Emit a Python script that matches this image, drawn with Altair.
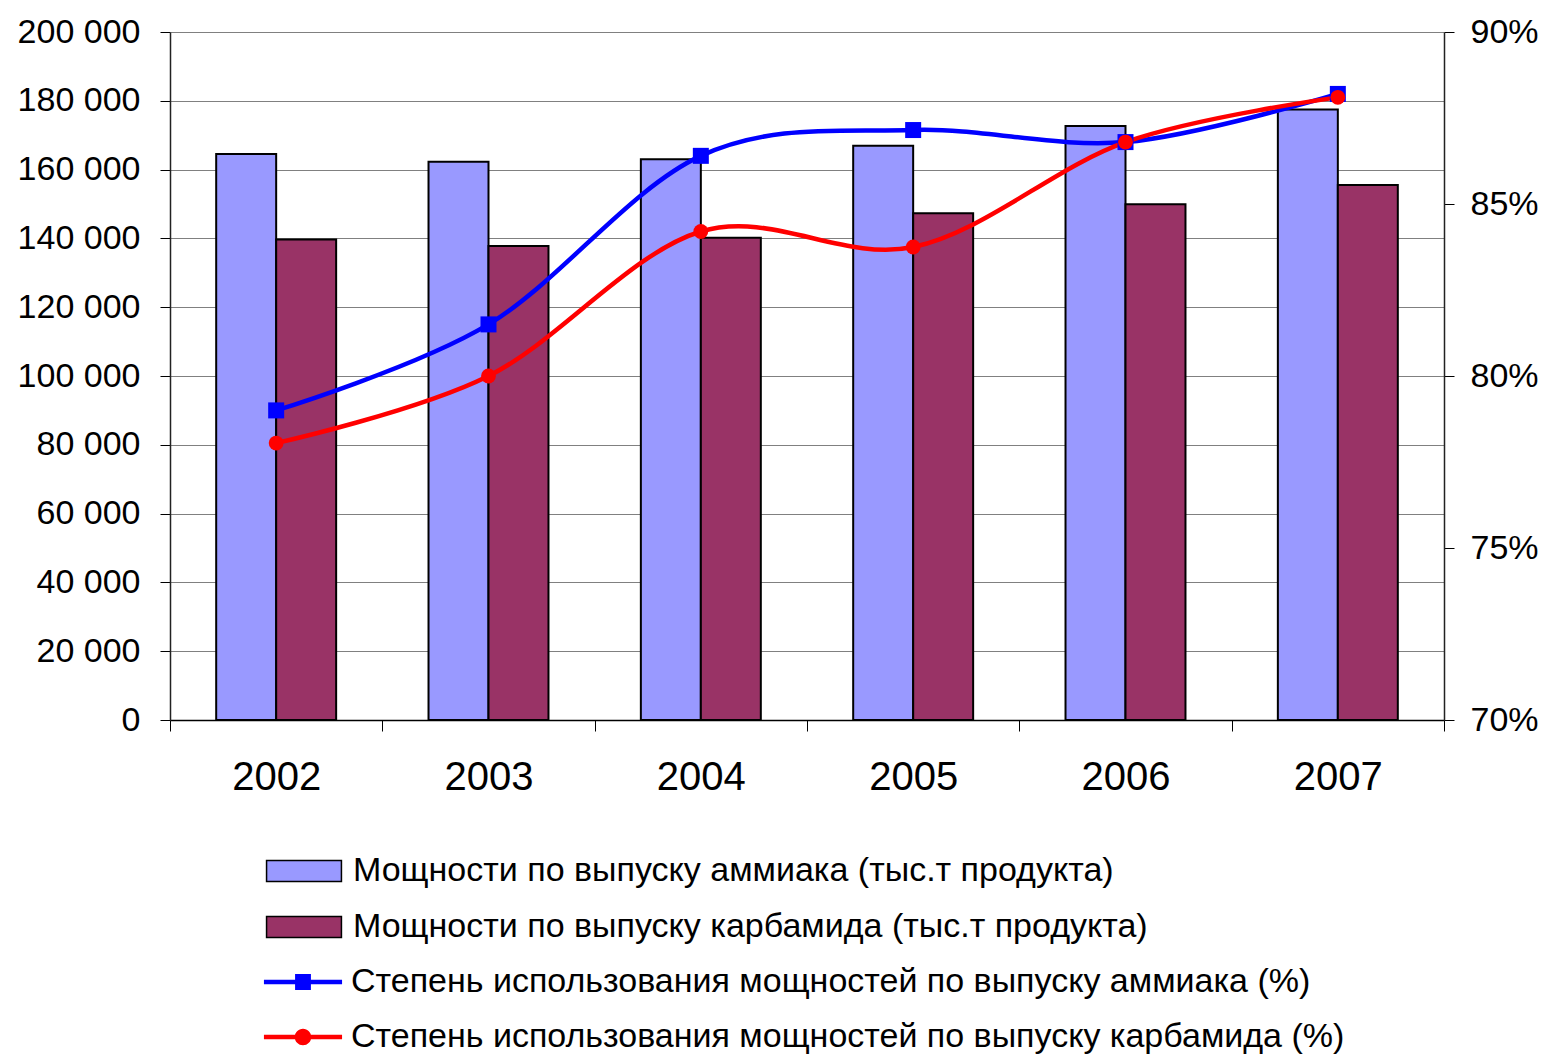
import altair as alt
import pandas as pd

years = ["2002", "2003", "2004", "2005", "2006", "2007"]
ammonia_capacity = [164500, 162300, 163000, 166900, 172700, 177500]
carbamide_capacity = [139700, 137800, 140200, 147300, 149900, 155500]
ammonia_util = [79.0, 81.5, 86.4, 87.15, 86.8, 88.2]
carbamide_util = [78.05, 80.0, 84.2, 83.75, 86.8, 88.1]

S_AM_CAP = "Мощности по выпуску аммиака (тыс.т продукта)"
S_CA_CAP = "Мощности по выпуску карбамида (тыс.т продукта)"
S_AM_UT = "Степень использования мощностей по выпуску аммиака (%)"
S_CA_UT = "Степень использования мощностей по выпуску карбамида (%)"

left_ticks = [0, 20000, 40000, 60000, 80000, 100000, 120000, 140000, 160000, 180000, 200000]
right_ticks = [70, 75, 80, 85, 90]

bars_df = pd.DataFrame(
    {"year": years * 2,
     "series": [S_AM_CAP] * 6 + [S_CA_CAP] * 6,
     "value": ammonia_capacity + carbamide_capacity}
)
lines_df = pd.DataFrame(
    {"year": years * 2,
     "series": [S_AM_UT] * 6 + [S_CA_UT] * 6,
     "value": ammonia_util + carbamide_util}
)
am_df = pd.DataFrame({"year": years, "value": ammonia_util})
ca_df = pd.DataFrame({"year": years, "value": carbamide_util})

RECT = "M-2.08,-0.58H2.08V0.58H-2.08Z"
LSQ = "M-2.17,-0.12H2.17V0.12H-2.17Z M-0.44,-0.44H0.44V0.44H-0.44Z"
LCI = ("M-2.17,-0.12H2.17V0.12H-2.17Z "
       "M0.46,0A0.46,0.46 0 1 1 -0.46,0A0.46,0.46 0 1 1 0.46,0Z")

LEGEND_X = 115
LEGEND_Y = 820
ROW_STEP = 56

common_legend = dict(
    title=None, orient="none", legendX=LEGEND_X, direction="vertical",
    symbolSize=1296, symbolOpacity=1, labelFontSize=34, labelFont="Liberation Sans",
    labelColor="black", labelLimit=1500, labelOffset=30, rowPadding=20, padding=0,
)

bar_legend = alt.Legend(
    legendY=LEGEND_Y, symbolType=RECT, symbolStrokeColor="black", symbolStrokeWidth=1.5,
    **common_legend,
)
line_legend = alt.Legend(legendY=LEGEND_Y + 2 * ROW_STEP, symbolStrokeWidth=0, **common_legend)

x_enc = alt.X(
    "year:N",
    scale=alt.Scale(paddingInner=0, paddingOuter=0),
    axis=alt.Axis(
        title=None, labelAngle=0, tickBand="extent", tickSize=11, tickColor="black",
        domainColor="black", domainWidth=1.5, labelFontSize=40, labelPadding=26,
        labelColor="black", grid=False,
    ),
)

bars = alt.Chart(bars_df).mark_bar(stroke="black", strokeWidth=2).encode(
    x=x_enc,
    xOffset=alt.XOffset(
        "series:N",
        scale=alt.Scale(domain=[S_AM_CAP, S_CA_CAP], paddingInner=0, paddingOuter=0.77),
    ),
    y=alt.Y(
        "value:Q",
        scale=alt.Scale(domain=[0, 200000], nice=False),
        axis=alt.Axis(
            title=None, orient="left", values=left_ticks, grid=True, gridColor="#808080",
            gridWidth=1, tickSize=10, tickColor="black", domainColor="#222", domainWidth=1.5,
            labelFontSize=34, labelPadding=20, labelColor="black",
            labelExpr="datum.value >= 1000 ? floor(datum.value / 1000) + ' 000' : '0'",
        ),
    ),
    fill=alt.Fill("series:N", scale=alt.Scale(domain=[S_AM_CAP, S_CA_CAP], range=["#9999FF", "#993366"]), legend=bar_legend),
)

y_right = alt.Y(
    "value:Q",
    scale=alt.Scale(domain=[70, 90], nice=False),
    axis=alt.Axis(
        title=None, orient="right", values=right_ticks, grid=False, tickSize=10,
        tickColor="black", domainColor="#222", domainWidth=1.5, labelFontSize=34,
        labelPadding=16, labelColor="black", labelExpr="datum.value + '%'",
    ),
)

lines = alt.Chart(lines_df).mark_line(strokeWidth=4.5, interpolate="cardinal").encode(
    x=x_enc,
    y=y_right,
    stroke=alt.Stroke("series:N", scale=alt.Scale(domain=[S_AM_UT, S_CA_UT], range=["#0000FF", "#FF0000"]), legend=None),
)

am_points = alt.Chart(am_df).mark_square(size=256, color="#0000FF", opacity=1).encode(x=x_enc, y=y_right)
ca_points = alt.Chart(ca_df).mark_circle(size=220, color="#FF0000", opacity=1).encode(x=x_enc, y=y_right)

legend_layer = alt.Chart(lines_df).mark_point(filled=True, opacity=0).encode(
    x=x_enc,
    y=y_right,
    color=alt.Color("series:N", scale=alt.Scale(domain=[S_AM_UT, S_CA_UT], range=["#0000FF", "#FF0000"]), legend=line_legend),
    shape=alt.Shape("series:N", scale=alt.Scale(domain=[S_AM_UT, S_CA_UT], range=[LSQ, LCI]), legend=line_legend),
)

right = alt.layer(legend_layer, lines, am_points, ca_points)

chart = (
    alt.layer(bars, right)
    .resolve_scale(y="independent")
    .properties(width=1274, height=688, padding={"left": 9, "top": 7, "right": 0, "bottom": 0})
    .configure(font="Liberation Sans")
    .configure_view(stroke=None)
)

chart.save("out.html", embed_options={"renderer": "svg", "actions": False})
